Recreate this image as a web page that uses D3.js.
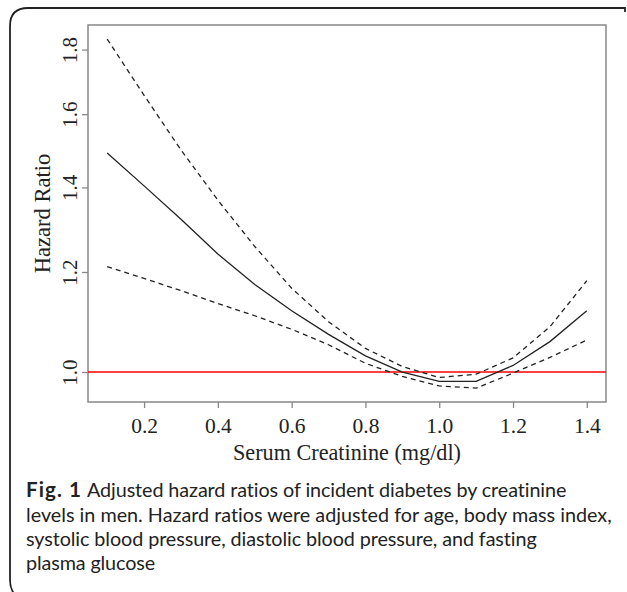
<!DOCTYPE html>
<html><head><meta charset="utf-8">
<script src="https://cdn.jsdelivr.net/npm/d3@7/dist/d3.min.js"></script>
<style>body{margin:0;background:#fff}svg{display:block}</style>
</head><body>
<script>
const creatinine = [0.1,0.2,0.3,0.4,0.5,0.6,0.7,0.8,0.9,1.0,1.1,1.2,1.3,1.4];
const hazardRatio = [1.491,1.404,1.321,1.240,1.173,1.118,1.071,1.030,1.000,0.983,0.983,1.012,1.057,1.118];
const upperCI = [1.835,1.656,1.499,1.368,1.257,1.165,1.096,1.044,1.010,0.990,0.996,1.026,1.086,1.181];
const lowerCI = [1.212,1.186,1.160,1.133,1.108,1.081,1.051,1.016,0.992,0.975,0.971,0.998,1.027,1.060];
const xTicks = [0.2,0.4,0.6,0.8,1.0,1.2,1.4];
const yTicks = [1.0,1.2,1.4,1.6,1.8];
const referenceHR = 1.0;
const xTitle = "Serum Creatinine (mg/dl)";
const yTitle = "Hazard Ratio";
const captionBold = "Fig. 1";
const captionLines = ["Adjusted hazard ratios of incident diabetes by creatinine",
  "levels in men. Hazard ratios were adjusted for age, body mass index,",
  "systolic blood pressure, diastolic blood pressure, and fasting",
  "plasma glucose"];

const W=627,H=592;
const svg=d3.select("body").append("svg").attr("width",W).attr("height",H);
const L=88,R=606,T=25,B=402;
const x=d3.scaleLinear().domain([0.048,1.452]).range([L,R]);
const y=d3.scaleLog().domain([0.9468,1.8825]).range([B,T]);

// frame
svg.append("path").attr("d",`M625,12 L625,8 L28,8 Q10,8 10,26 L10,580 Q10,590 16,596`)
  .attr("fill","none").attr("stroke","#222").attr("stroke-width",1.8);

// plot box
svg.append("rect").attr("x",L).attr("y",T).attr("width",R-L).attr("height",B-T)
  .attr("fill","none").attr("stroke","#888").attr("stroke-width",1.5);

const serif="'Liberation Serif','Times New Roman',serif";
// x axis
const xa=svg.append("g").attr("transform",`translate(0,${B})`)
  .call(d3.axisBottom(x).tickValues(xTicks).tickSize(6).tickPadding(12).tickFormat(d3.format(".1f")));
xa.select(".domain").remove();
xa.selectAll("line").attr("stroke","#888").attr("stroke-width",1.3);
xa.selectAll("text").attr("font-family",serif).attr("font-size",21.5).attr("fill","#222").attr("dy",null).attr("y",31);

// y axis
const ya=svg.append("g").attr("transform",`translate(${L},0)`)
  .call(d3.axisLeft(y).tickValues(yTicks).tickSize(6).tickFormat(d3.format(".1f")));
ya.select(".domain").remove();
ya.selectAll("line").attr("stroke","#888").attr("stroke-width",1.3);
ya.selectAll("text").attr("font-family",serif).attr("font-size",21).attr("fill","#222")
  .attr("x",null).attr("dy",null).attr("text-anchor","middle")
  .attr("transform","translate(-11,0) rotate(-90)");

svg.append("text").attr("x",(L+R)/2).attr("y",460).attr("text-anchor","middle")
  .attr("font-family",serif).attr("font-size",22.2).attr("fill","#222").text(xTitle);
svg.append("text").attr("transform",`translate(50,${(T+B)/2}) rotate(-90)`).attr("text-anchor","middle")
  .attr("font-family",serif).attr("font-size",22.5).attr("fill","#222").text(yTitle);

// reference line
svg.append("line").attr("x1",L).attr("x2",R).attr("y1",y(referenceHR)).attr("y2",y(referenceHR))
  .attr("stroke","#f00").attr("stroke-width",1.5);

const line=(arr)=>d3.line().x((d,i)=>x(creatinine[i])).y(d=>y(d))(arr);
svg.append("path").attr("d",line(upperCI)).attr("fill","none").attr("stroke","#222").attr("stroke-width",1.3).attr("stroke-dasharray","5,4");
svg.append("path").attr("d",line(lowerCI)).attr("fill","none").attr("stroke","#222").attr("stroke-width",1.3).attr("stroke-dasharray","5,4");
svg.append("path").attr("d",line(hazardRatio)).attr("fill","none").attr("stroke","#222").attr("stroke-width",1.3);

// caption
const cf="Lato,'Open Sans',sans-serif";
const base=[497,522,546,570];
const starts=[87,26,26,26];
const ends=[567,612,537,155];
let fs=19;
const probe=svg.append("text").attr("font-family",cf).attr("font-size",fs).text(captionLines[1]);
const wmeas=probe.node().getComputedTextLength(); probe.remove();
fs=Math.min(20, fs*586/wmeas);
function fitText(sel,target,n){
  const w=sel.node().getComputedTextLength();
  sel.attr("letter-spacing",((target-w)/n).toFixed(3));
}
const fb=svg.append("text").attr("x",26).attr("y",base[0]).attr("font-family",cf).attr("font-size",fs+0.8)
  .attr("font-weight","bold").attr("fill","#222").text(captionBold);
fitText(fb,56,captionBold.length);
captionLines.forEach((t,i)=>{
  const s=svg.append("text").attr("x",starts[i]).attr("y",base[i]).attr("font-family",cf).attr("font-size",fs).attr("fill","#222").text(t);
  fitText(s,ends[i]-starts[i],t.length);
});
</script>
</body></html>
